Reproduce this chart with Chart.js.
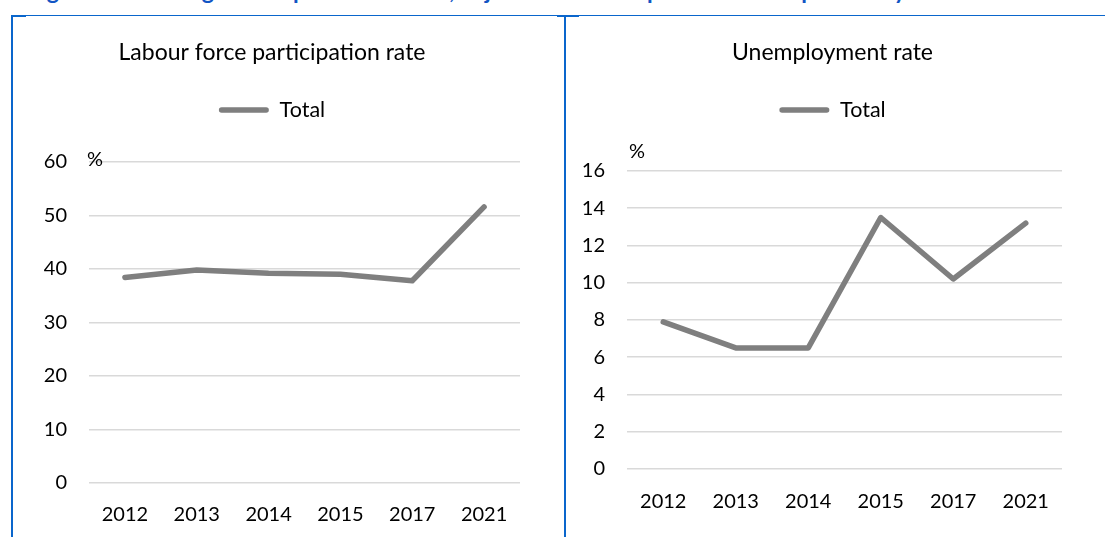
<!DOCTYPE html>
<html>
<head>
<meta charset="utf-8">
<script src="https://cdn.jsdelivr.net/npm/chart.js@4.4.1/dist/chart.umd.min.js"></script>
<style>
  html, body { margin: 0; padding: 0; background: #fff; }
  body { position: relative; width: 1105px; height: 537px; overflow: hidden; font-family: Lato, "Open Sans", sans-serif; }
  .heading { position: absolute; left: 28px; top: -24px; white-space: nowrap; font: bold 23px Lato, sans-serif; color: #1155c4; }
  .rule { position: absolute; background: #0a66cc; }
  .panel { position: absolute; }
  .panel canvas { display: block; }
</style>
</head>
<body>
<div class="heading">Figure 2. Rural region of Apurímac – Total, adjusted data compared with the previous year data</div>

<!-- panel frame -->
<div class="rule" style="left:11px; top:15px; width:1094px; height:1px;"></div>
<div class="rule" style="left:11px; top:15px; width:15px; height:2px;"></div>
<div class="rule" style="left:557px; top:15px; width:22px; height:2px;"></div>
<div class="rule" style="left:11px; top:15px; width:2px; height:522px;"></div>
<div class="rule" style="left:564px; top:15px; width:2px; height:522px;"></div>

<div class="panel" style="left:14px; top:17px;"><canvas id="lfpr" width="549" height="520"></canvas></div>
<div class="panel" style="left:567px; top:17px;"><canvas id="unemp" width="538" height="520"></canvas></div>

<script>
// Survey years shown on both charts
const years = ['2012', '2013', '2014', '2015', '2017', '2021'];

// Labour force participation rate, total (%)
const participationRate = [38.4, 39.8, 39.2, 39.0, 37.8, 51.6];

// Unemployment rate, total (%)
const unemploymentRate = [7.9, 6.5, 6.5, 13.5, 10.2, 13.2];

// Value-axis ranges
const participationAxis = { min: 0, max: 60, step: 10 };
const unemploymentAxis = { min: 0, max: 16, step: 2 };

const FONT = 'Lato';
const LINE_GREY = '#7f7f7f';

// Adds extra room below the legend so the plot starts lower
const legendSpacer = {
  id: 'legendSpacer',
  beforeInit(chart, args, opts) {
    const legend = chart.legend;
    const fit = legend.fit;
    legend.fit = function () {
      fit.call(this);
      this.height += opts.extra || 0;
    };
  }
};

// Unit label drawn near the top of the value axis
const unitLabel = {
  id: 'unitLabel',
  afterDraw(chart, args, opts) {
    const { ctx, chartArea, scales } = chart;
    const yTop = scales.y.getPixelForValue(scales.y.max);
    ctx.save();
    ctx.font = '20px ' + FONT;
    ctx.fillStyle = '#000';
    ctx.textAlign = 'left';
    ctx.textBaseline = 'middle';
    ctx.fillText(opts.text, chartArea.left + opts.dx, yTop + opts.dy);
    ctx.restore();
  }
};

function makeChart(id, title, values, axis, cfg) {
  return new Chart(document.getElementById(id), {
    type: 'line',
    data: {
      labels: years,
      datasets: [{
        label: 'Total',
        data: values,
        borderColor: LINE_GREY,
        backgroundColor: LINE_GREY,
        borderWidth: 5.5,
        borderCapStyle: 'round',
        borderJoinStyle: 'round',
        pointRadius: 0,
        pointHoverRadius: 0,
        tension: 0,
        fill: false
      }]
    },
    plugins: [legendSpacer, unitLabel],
    options: {
      responsive: false,
      animation: false,
      events: [],
      layout: { padding: { left: cfg.padLeft, right: cfg.padRight, top: 0, bottom: 0 } },
      plugins: {
        title: {
          display: true,
          text: title,
          color: '#000',
          font: { family: FONT, size: 23, weight: 'normal' },
          padding: { top: 22, bottom: 22.6 }
        },
        legend: {
          display: true,
          position: 'top',
          labels: {
            color: '#000',
            font: { family: FONT, size: 21.5 },
            boxWidth: 50,
            boxHeight: 5.5,
            padding: 10,
            useBorderRadius: true,
            borderRadius: 2.75,
            generateLabels(chart) {
              const items = Chart.defaults.plugins.legend.labels.generateLabels(chart);
              items.forEach(it => { it.fillStyle = LINE_GREY; it.lineWidth = 0; });
              return items;
            }
          }
        },
        legendSpacer: { extra: cfg.legendExtra },
        unitLabel: { text: '%', dx: cfg.unitDx, dy: cfg.unitDy },
        tooltip: { enabled: false }
      },
      scales: {
        x: {
          offset: true,
          grid: { display: false },
          border: { display: false },
          ticks: { color: '#000', font: { family: FONT, size: 20 }, padding: cfg.xPad, maxRotation: 0 },
          afterFit(scale) { scale.height = cfg.xHeight; }
        },
        y: {
          min: axis.min,
          max: axis.max,
          grid: { color: '#d9d9d9', lineWidth: 1.5, drawTicks: false },
          border: { display: false },
          ticks: { stepSize: axis.step, color: '#000', font: { family: FONT, size: 20 }, padding: 22 },
          afterFit(scale) { scale.width = cfg.yWidth; }
        },
        // empty right-hand margin between the plot and the title's right edge
        yMargin: {
          position: 'right',
          display: cfg.plotRightGap > 0,
          grid: { display: false },
          border: { display: false },
          ticks: { display: false },
          afterFit(scale) { scale.width = cfg.plotRightGap; }
        }
      }
    }
  });
}

makeChart('lfpr', 'Labour force participation rate', participationRate, participationAxis, {
  padLeft: 10, padRight: 43, yWidth: 65, xHeight: 54, xPad: 12, plotRightGap: 0,
  legendExtra: 31.25, unitDx: -2, unitDy: -2
});

makeChart('unemp', 'Unemployment rate', unemploymentRate, unemploymentAxis, {
  padLeft: 14, padRight: 21, yWidth: 46, xHeight: 68, xPad: 13, plotRightGap: 22,
  legendExtra: 40.25, unitDx: 2, unitDy: -19
});
</script>
</body>
</html>
